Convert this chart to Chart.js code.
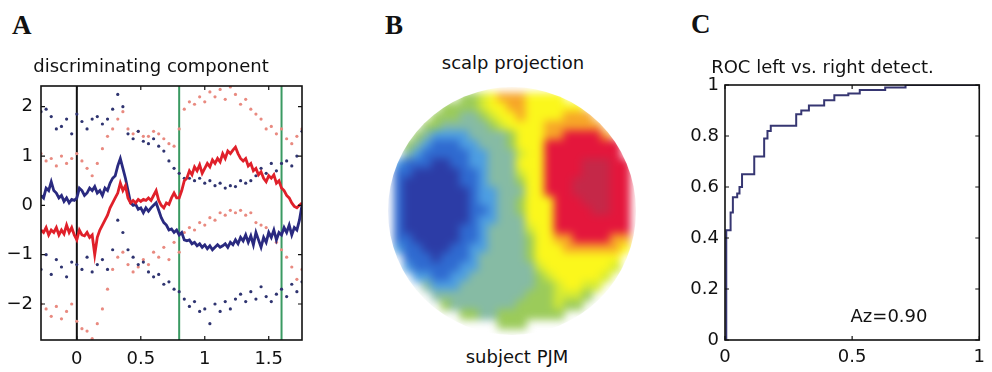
<!DOCTYPE html>
<html>
<head>
<meta charset="utf-8">
<script src="https://cdn.jsdelivr.net/npm/chart.js@4.4.1/dist/chart.umd.min.js"></script>
<style>
html,body{margin:0;padding:0;background:#fff;}
body{width:992px;height:372px;position:relative;overflow:hidden;font-family:"DejaVu Sans",sans-serif;}
.abs{position:absolute;}
.letter{font-family:"Liberation Serif","DejaVu Serif",serif;font-weight:bold;font-size:27px;line-height:27px;color:#111;}
.lbl{font-size:18px;line-height:18px;color:#111;text-align:center;white-space:nowrap;}
#mapWrap{left:380px;top:80px;width:264px;height:264px;filter:blur(4px);clip-path:circle(124px at 132px 131px);}
</style>
</head>
<body>
<div class="abs letter" style="left:12px;top:12px">A</div>
<div class="abs letter" style="left:385px;top:12px">B</div>
<div class="abs letter" style="left:691px;top:11px">C</div>

<div class="abs" style="left:0;top:0;width:330px;height:372px"><canvas id="cA" width="330" height="372"></canvas></div>
<div class="abs" id="mapWrap"><canvas id="cB" width="264" height="264"></canvas></div>
<div class="abs lbl" style="left:413px;top:54px;width:200px">scalp projection</div>
<div class="abs lbl" style="left:417px;top:348px;width:200px">subject PJM</div>
<div class="abs" style="left:660px;top:0;width:332px;height:372px"><canvas id="cC" width="332" height="372"></canvas></div>

<script>
// ---------------- Panel A data ----------------
const titleA = 'discriminating component';
const axisA_x = [-0.28, 1.76];
const axisA_y = [-2.73, 2.42];
const tickA_x = [0, 0.5, 1, 1.5];
const tickA_xLabels = ['0', '0.5', '1', '1.5'];
const tickA_y = [-2, -1, 0, 1, 2];
const tickA_yLabels = ['\u22122', '\u22121', '0', '1', '2'];
const markerTimes = [0, 0.8, 1.6];

const lineTime = [-0.28,-0.26,-0.24,-0.22,-0.20,-0.18,-0.16,-0.14,-0.12,-0.10,
-0.08,-0.06,-0.04,-0.02,0.00,0.02,0.04,0.06,0.08,0.10,
0.12,0.14,0.16,0.18,0.20,0.22,0.24,0.26,0.28,0.30,
0.32,0.34,0.36,0.38,0.40,0.42,0.44,0.46,0.48,0.50,
0.52,0.54,0.56,0.58,0.60,0.62,0.64,0.66,0.68,0.70,
0.72,0.74,0.76,0.78,0.80,0.82,0.84,0.86,0.88,0.90,
0.92,0.94,0.96,0.98,1.00,1.02,1.04,1.06,1.08,1.10,
1.12,1.14,1.16,1.18,1.20,1.22,1.24,1.26,1.28,1.30,
1.32,1.34,1.36,1.38,1.40,1.42,1.44,1.46,1.48,1.50,
1.52,1.54,1.56,1.58,1.60,1.62,1.64,1.66,1.68,1.70,
1.72,1.74,1.76];

const blueMean = [0.20,0.15,0.35,0.30,0.48,0.30,0.25,0.15,0.20,0.08,
0.15,0.05,0.12,0.10,0.15,0.35,0.30,0.20,0.25,0.35,
0.30,0.38,0.25,0.30,0.20,0.35,0.30,0.45,0.55,0.60,
0.80,0.95,0.75,0.55,0.30,0.05,0.00,0.02,-0.08,-0.05,
-0.15,-0.05,-0.12,-0.05,0.00,0.05,-0.10,-0.25,-0.35,-0.40,
-0.50,-0.48,-0.55,-0.50,-0.60,-0.55,-0.70,-0.72,-0.70,-0.78,
-0.75,-0.82,-0.78,-0.85,-0.80,-0.88,-0.82,-0.90,-0.85,-0.80,
-0.85,-0.82,-0.78,-0.85,-0.75,-0.80,-0.70,-0.78,-0.65,-0.72,
-0.60,-0.75,-0.62,-0.80,-0.55,-0.70,-0.85,-0.65,-0.75,-0.55,
-0.65,-0.50,-0.70,-0.55,-0.60,-0.45,-0.55,-0.40,-0.60,-0.45,
-0.50,-0.30,0.00];

const redMean = [-0.50,-0.55,-0.45,-0.60,-0.50,-0.55,-0.45,-0.60,-0.50,-0.58,
-0.40,-0.55,-0.45,-0.60,-0.70,-0.50,-0.60,-0.62,-0.55,-0.65,
-0.60,-1.00,-0.65,-0.50,-0.40,-0.30,-0.20,-0.05,0.05,0.15,
0.25,0.45,0.30,0.40,0.15,0.05,0.10,0.05,0.12,0.08,
0.12,0.10,0.15,0.10,0.20,0.30,0.10,0.00,-0.05,0.05,
0.02,0.15,0.25,0.15,0.15,0.30,0.50,0.55,0.70,0.62,
0.78,0.70,0.82,0.65,0.75,0.85,0.78,0.92,0.85,0.95,
0.88,1.05,0.95,1.10,1.05,1.12,1.18,1.05,0.95,0.90,
0.95,0.80,0.85,0.70,0.75,0.62,0.68,0.55,0.48,0.60,
0.55,0.62,0.45,0.50,0.35,0.30,0.20,0.15,0.05,-0.02,
-0.05,0.00,0.05];

const dotTime = [-0.28,-0.24,-0.20,-0.16,-0.12,-0.08,-0.04,0.00,0.04,0.08,
0.12,0.16,0.20,0.24,0.28,0.32,0.36,0.40,0.44,0.48,
0.52,0.56,0.60,0.64,0.68,0.72,0.76,0.80,0.84,0.88,
0.92,0.96,1.00,1.04,1.08,1.12,1.16,1.20,1.24,1.28,
1.32,1.36,1.40,1.44,1.48,1.52,1.56,1.60,1.64,1.68,
1.72,1.76];

const blueUpper = [1.90,1.95,1.80,1.55,1.60,1.75,1.45,1.85,1.70,1.55,
1.75,1.80,1.65,1.75,1.95,2.25,2.00,1.45,1.35,1.50,
1.30,1.25,1.35,1.20,1.10,0.90,0.75,0.65,0.55,0.55,
0.50,0.55,0.45,0.50,0.40,0.45,0.35,0.40,0.38,0.50,
0.45,0.50,0.60,0.75,0.65,0.85,0.70,0.85,0.90,0.80,
1.00,1.50];

const blueLower = [-1.30,-1.00,-1.40,-1.10,-1.25,-1.45,-1.15,-1.20,-1.30,-1.05,
-1.35,-1.20,-1.10,-1.30,-0.90,-0.30,-0.55,-0.90,-1.05,-1.20,
-1.15,-1.35,-1.45,-1.40,-1.60,-1.55,-1.70,-1.75,-1.90,-2.05,
-1.95,-2.15,-2.10,-2.40,-2.00,-2.15,-1.95,-2.10,-1.90,-1.80,
-1.95,-1.75,-1.90,-1.65,-1.85,-1.95,-1.80,-1.70,-1.85,-1.60,
-1.75,-1.55];

const redUpper = [1.05,0.90,0.95,0.80,1.00,0.85,0.95,1.05,0.90,0.75,
0.60,0.85,1.15,1.40,1.55,1.75,1.90,1.55,1.45,1.50,
1.40,1.40,1.50,1.45,1.35,1.25,1.20,1.55,1.95,2.10,
2.05,2.20,2.10,2.30,2.20,2.35,2.15,2.40,2.25,2.05,
2.15,1.95,1.85,1.75,1.55,1.60,1.45,1.55,1.35,1.25,
1.40,1.55];

const redLower = [-2.00,-2.10,-2.25,-2.05,-2.30,-2.15,-2.00,-2.35,-2.50,-2.55,
-2.70,-2.40,-2.10,-1.70,-1.30,-1.05,-0.95,-1.20,-1.35,-1.25,
-1.10,-1.20,-0.95,-1.05,-0.85,-1.10,-0.75,-0.95,-0.55,-0.45,
-0.50,-0.35,-0.40,-0.25,-0.30,-0.15,-0.20,-0.10,-0.15,-0.10,
-0.20,-0.15,-0.35,-0.40,-0.45,-0.60,-0.75,-0.90,-1.05,-1.25,
-1.50,-1.30];

// ---------------- Panel B data (scalp map levels, 0=dark blue ... 9=dark red) ----------------
const mapRows = [
".......44567776666.......",
".....444456677666666.....",
"....44433456676666777....",
"...4433333456666777777...",
"..432222333346667788887..",
".43211122333466688888888.",
".32111112233356688888888.",
"2111001122333666888899988",
"1100000112333566888899988",
"1000000112333466888999988",
"1000000012233366888999988",
"1000000012233466688899988",
"1000000011233466688889988",
"1000000012233366688888888",
"1000000112333356688888888",
"1100000112333346677888877",
"2110001122333346667777776",
".11101112333334666666666.",
".21111122333333566666665.",
"..221122333333345666665..",
"...3222333333334456655...",
"....33333333334445554....",
".....433333334444544.....",
".......44334444444.......",
"...........444..........."
];
const levelColors = ['#2c3ca6','#2f6ad0','#4d9ee2','#86bba4','#9bcb5a','#d4ea34','#fbf71c','#f7a628','#e4163c','#c52848'];

// ---------------- Panel C data ----------------
const titleC = 'ROC left vs. right detect.';
const rocFPR = [0, 0.005, 0.022, 0.031, 0.048, 0.057, 0.067, 0.115, 0.154, 0.167, 0.18, 0.28, 0.30, 0.33, 0.39, 0.43, 0.485, 0.53, 0.63, 0.71, 1.0];
const rocTPR = [0, 0.43, 0.50, 0.56, 0.575, 0.60, 0.65, 0.72, 0.79, 0.82, 0.84, 0.885, 0.90, 0.92, 0.94, 0.96, 0.967, 0.98, 0.99, 1.0, 1.0];
const tickC_x = [0, 0.5, 1];
const tickC_xLabels = ['0', '0.5', '1'];
const tickC_y = [0, 0.2, 0.4, 0.6, 0.8, 1];
const tickC_yLabels = ['0', '0.2', '0.4', '0.6', '0.8', '1'];
const azText = 'Az=0.90';

// ---------------- Rendering ----------------
Chart.defaults.font.family = '"DejaVu Sans", sans-serif';
Chart.defaults.font.size = 18;
Chart.defaults.color = '#111';

const pts = (xs, ys) => xs.map((x, k) => ({x: x, y: ys[k]}));

const framePlugin = {
  id: 'frame',
  afterDatasetsDraw(chart) {
    const {ctx, chartArea: a, scales: {x, y}} = chart;
    ctx.save();
    ctx.strokeStyle = '#111';
    ctx.lineWidth = 1.6;
    ctx.strokeRect(a.left, a.top, a.right - a.left, a.bottom - a.top);
    ctx.lineWidth = 1.2;
    ctx.beginPath();
    x.ticks.forEach(t => {
      const p = x.getPixelForValue(t.value);
      ctx.moveTo(p, a.bottom); ctx.lineTo(p, a.bottom - 4);
      ctx.moveTo(p, a.top); ctx.lineTo(p, a.top + 4);
    });
    y.ticks.forEach(t => {
      const p = y.getPixelForValue(t.value);
      ctx.moveTo(a.left, p); ctx.lineTo(a.left + 4, p);
      ctx.moveTo(a.right, p); ctx.lineTo(a.right - 4, p);
    });
    ctx.stroke();
    ctx.restore();
  }
};

function axis(min, max, vals, labels, isX, size, pad) {
  return {
    type: 'linear', min: min, max: max,
    grid: {display: false, drawTicks: false},
    border: {display: false},
    ticks: {padding: pad, maxRotation: 0, autoSkip: false, color: '#111',
            font: {size: 18}, callback: (v, i) => labels[i]},
    afterBuildTicks: s => { s.ticks = vals.map(v => ({value: v})); },
    afterFit: s => { if (isX) s.height = size; else s.width = size; }
  };
}

const markerColors = ['#111111', '#3a9a62', '#3a9a62'];
const markerSets = markerTimes.map((t, k) => ({
  type: 'line', showLine: true, data: [{x: t, y: axisA_y[0]}, {x: t, y: axisA_y[1]}],
  borderColor: markerColors[k], borderWidth: 2, pointRadius: 0, order: 5
}));

new Chart(document.getElementById('cA'), {
  type: 'scatter',
  data: {
    datasets: [
      {data: pts(lineTime, redMean), showLine: true, borderColor: '#e0202a', borderWidth: 2.8, pointRadius: 0, order: 0},
      {data: pts(lineTime, blueMean), showLine: true, borderColor: '#2a2a80', borderWidth: 2.8, pointRadius: 0, order: 1},
      {data: pts(dotTime, blueUpper), pointRadius: 1.6, pointBackgroundColor: '#2f3470', pointBorderWidth: 0, order: 2},
      {data: pts(dotTime, blueLower), pointRadius: 1.6, pointBackgroundColor: '#2f3470', pointBorderWidth: 0, order: 2},
      {data: pts(dotTime, redUpper), pointRadius: 1.6, pointBackgroundColor: '#e98a80', pointBorderWidth: 0, order: 3},
      {data: pts(dotTime, redLower), pointRadius: 1.6, pointBackgroundColor: '#e98a80', pointBorderWidth: 0, order: 3},
      ...markerSets
    ]
  },
  options: {
    responsive: false, animation: false, events: [],
    layout: {padding: {left: 0, right: 28, top: 0, bottom: 0}},
    plugins: {
      legend: {display: false}, tooltip: {enabled: false},
      title: {display: true, text: titleA, color: '#111',
              font: {size: 18, weight: 'normal', lineHeight: 1},
              padding: {top: 58, bottom: 10}}
    },
    scales: {
      x: axis(axisA_x[0], axisA_x[1], tickA_x, tickA_xLabels, true, 32, 9),
      y: axis(axisA_y[0], axisA_y[1], tickA_y, tickA_yLabels, false, 41, 8)
    }
  },
  plugins: [framePlugin]
});

// Panel B: scalp map cells
const cellPts = [], cellCols = [];
mapRows.forEach((row, j) => {
  for (let i = 0; i < row.length; i++) {
    const ch = row[i];
    if (ch === '.') continue;
    cellPts.push({x: i, y: j});
    cellCols.push(levelColors[+ch]);
  }
});
new Chart(document.getElementById('cB'), {
  type: 'scatter',
  data: {datasets: [{data: cellPts, pointStyle: 'rect', pointRadius: 7.8,
    pointBackgroundColor: cellCols, pointBorderWidth: 0, borderWidth: 0}]},
  options: {
    responsive: false, animation: false, events: [],
    layout: {padding: 0},
    plugins: {legend: {display: false}, tooltip: {enabled: false}},
    scales: {
      x: {type: 'linear', min: -1.2, max: 25.2, display: false},
      y: {type: 'linear', min: -1.1, max: 25.3, reverse: true, display: false}
    }
  }
});

// Panel C
const azPlugin = {
  id: 'az',
  afterDatasetsDraw(chart) {
    const {ctx, scales: {x, y}} = chart;
    ctx.save();
    ctx.font = '18px "DejaVu Sans", sans-serif';
    ctx.fillStyle = '#111';
    ctx.textAlign = 'center';
    ctx.textBaseline = 'middle';
    ctx.fillText(azText, x.getPixelForValue(0.645), y.getPixelForValue(0.09));
    ctx.restore();
  }
};
new Chart(document.getElementById('cC'), {
  type: 'scatter',
  data: {datasets: [{data: pts(rocFPR, rocTPR), showLine: true, stepped: 'before',
    borderColor: '#363672', borderWidth: 2, pointRadius: 0}]},
  options: {
    responsive: false, animation: false, events: [],
    layout: {padding: {left: 0, right: 7, top: 0, bottom: 0}},
    plugins: {
      legend: {display: false}, tooltip: {enabled: false},
      title: {display: true, text: titleC, color: '#111',
              font: {size: 18, weight: 'normal', lineHeight: 1},
              padding: {top: 59, bottom: 8}}
    },
    scales: {
      x: axis(0, 1, tickC_x, tickC_xLabels, true, 32, 7),
      y: axis(0, 1, tickC_y, tickC_yLabels, false, 65, 6)
    }
  },
  plugins: [framePlugin, azPlugin]
});
</script>
</body>
</html>
